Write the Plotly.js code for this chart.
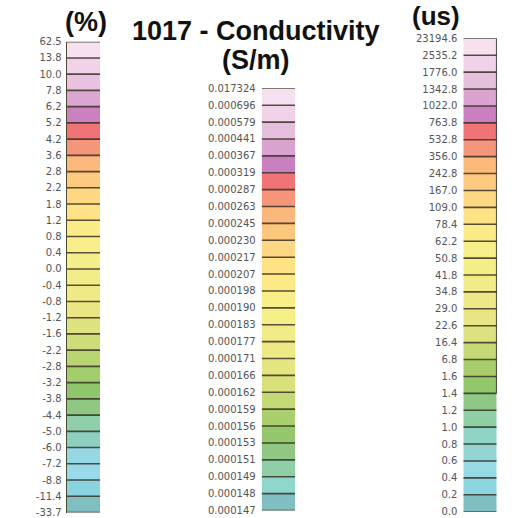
<!DOCTYPE html>
<html>
<head>
<meta charset="utf-8">
<script src="https://cdn.plot.ly/plotly-3.0.1.min.js"></script>
<style>
  html, body { margin: 0; padding: 0; background: #fff; }
  #chart { width: 524px; height: 518px; }
</style>
</head>
<body>
<div id="chart"></div>
<script>
// Class break values for each legend column, listed top to bottom.
const percentBreaks = [62.5, 13.8, 10.0, 7.8, 6.2, 5.2, 4.2, 3.6, 2.8, 2.2, 1.8, 1.2, 0.8, 0.4, 0.0,
  -0.4, -0.8, -1.2, -1.6, -2.2, -2.8, -3.2, -3.8, -4.4, -5.0, -6.0, -7.2, -8.8, -11.4, -33.7];

const conductivityBreaks = [0.017324, 0.000696, 0.000579, 0.000441, 0.000367, 0.000319, 0.000287,
  0.000263, 0.000245, 0.000230, 0.000217, 0.000207, 0.000198, 0.000190, 0.000183, 0.000177,
  0.000171, 0.000166, 0.000162, 0.000159, 0.000156, 0.000153, 0.000151, 0.000149, 0.000148, 0.000147];

const usBreaks = [23194.6, 2535.2, 1776.0, 1342.8, 1022.0, 763.8, 532.8, 356.0, 242.8, 167.0, 109.0,
  78.4, 62.2, 50.8, 41.8, 34.8, 29.0, 22.6, 16.4, 6.8, 1.6, 1.4, 1.2, 1.0, 0.8, 0.6, 0.4, 0.2, 0.0];

// Fill colour of each class, top to bottom.
const percentColors = ['#f5e1ef', '#f0d3e9', '#e8c2df', '#dba6d1', '#cb80c0', '#f07377', '#f5967b',
  '#fbb97d', '#fdca7f', '#fed882', '#fde385', '#fbec88', '#f8ef8a', '#f5ef8b', '#f3ed89', '#efea86',
  '#e9e683', '#dee27f', '#cedd79', '#b9d673', '#a1cd6c', '#8fc66c', '#8fc884', '#8fcfab', '#8dd0bf',
  '#96d7e4', '#98dae9', '#8ad4e0', '#7fbfc1'];

const conductivityColors = ['#f5e1ef', '#f0d3e9', '#e6bfdc', '#d9a2cf', '#ca80c0', '#f07377', '#f5957a',
  '#fbb77c', '#fdc87e', '#fed782', '#fee284', '#fcea87', '#f9ef89', '#f6ef8a', '#f2ec88', '#eee985',
  '#e5e582', '#d9e17d', '#c3d976', '#a9cf6e', '#95c86d', '#90c883', '#8fcfa8', '#8fd6cb', '#7fbfc1'];

const usColors = ['#f5e1ef', '#f0d3e9', '#e7c0dd', '#daa4d0', '#ca80c0', '#f07377', '#f5967b', '#fbb97c',
  '#fdca7f', '#fed882', '#fde385', '#fcec88', '#f8ef8a', '#f5ef8a', '#f2ec88', '#eee986', '#e8e683',
  '#dbe27e', '#c3d976', '#a6ce6d', '#92c86a', '#8fc884', '#8fcfa6', '#8fd4c4', '#92d5d3', '#98d9e6',
  '#8bd5de', '#7fbfc1'];

const W = 524, H = 518;
const SEP = 'rgba(45,38,25,0.8)';
const tickFont = { family: 'DejaVu Sans, Arial, sans-serif', size: 10, color: '#555555' };

// Each column is a stack of unit-height classes; the class k (counted from the bottom)
// spans [k, k+1] on its own y axis, and break labels sit on the class boundaries.
function column(breaks, colors, digits, axisNum) {
  const n = breaks.length - 1;
  const xa = axisNum === 1 ? 'x' : 'x' + axisNum;
  const ya = axisNum === 1 ? 'y' : 'y' + axisNum;
  const bottomUp = breaks.slice().reverse();
  const colorsUp = colors.slice().reverse();
  const idx = [...Array(n).keys()];
  const bars = {
    type: 'bar', xaxis: xa, yaxis: ya,
    x: idx.map(() => 0), y: idx.map(() => 1), base: idx,
    width: 1,
    marker: { color: colorsUp, line: { width: 0 } },
    hovertext: idx.map(k => bottomUp[k].toFixed(digits) + ' – ' + bottomUp[k + 1].toFixed(digits)),
    hoverinfo: 'text'
  };
  const sx = [], sy = [];
  for (let k = 0; k <= n; k++) { sx.push(-0.5, 0.5, null); sy.push(k, k, null); }
  const seps = {
    type: 'scatter', mode: 'lines', xaxis: xa, yaxis: ya, x: sx, y: sy,
    line: { color: SEP, width: 1.6 }, hoverinfo: 'skip', cliponaxis: false
  };
  const yaxis = {
    anchor: xa, range: [0, n], fixedrange: true,
    tickmode: 'array', tickvals: [...Array(n + 1).keys()],
    ticktext: bottomUp.map(v => v.toFixed(digits)),
    ticks: '', showgrid: false, zeroline: false, automargin: false,
    ticklabeloverflow: 'allow',
    tickfont: tickFont
  };
  const xaxis = { anchor: ya, range: [-0.5, 0.5], visible: false, fixedrange: true };
  return { traces: [bars, seps], xaxis, yaxis, bottomUp, n };
}

const left = column(percentBreaks, percentColors, 1, 1);
const mid = column(conductivityBreaks, conductivityColors, 6, 2);
const right = column(usBreaks, usColors, 1, 3);

// Pixel extents of the three colour columns
const px = (a, b) => [a / W, b / W];
const py = (top, bottom) => [1 - bottom / H, 1 - top / H];

left.xaxis.domain = px(66.7, 100);   left.yaxis.domain = py(41.7, 512.5);
mid.xaxis.domain = px(261.7, 295);   mid.yaxis.domain = py(88.3, 510.5);
right.xaxis.domain = px(463.3, 496.7); right.yaxis.domain = py(38.3, 511.7);

left.yaxis.ticklabelstandoff = 2;
mid.yaxis.ticklabelstandoff = 5;
right.yaxis.ticklabelstandoff = 5;

// dark outline down the left side of the percent column
left.yaxis.showline = true; left.yaxis.linecolor = '#4d4a30'; left.yaxis.linewidth = 1;

// black edge along the right side of the upper part of the us column
const edgeFrom = right.bottomUp.indexOf(1.4);
const usEdge = {
  type: 'scatter', mode: 'lines', xaxis: 'x3', yaxis: 'y3',
  x: [0.5, 0.5], y: [edgeFrom, right.n],
  line: { color: '#111111', width: 1.5 }, hoverinfo: 'skip', cliponaxis: false
};

const titleFont = { family: 'Liberation Sans, Arial, sans-serif', size: 27, color: '#111111' };
const ann = (text, x, y, size) => ({
  text: '<b>' + text + '</b>', xref: 'paper', yref: 'paper', x: x / W, y: 1 - y / H,
  xanchor: 'center', yanchor: 'middle', showarrow: false,
  font: Object.assign({}, titleFont, size ? { size } : {})
});

const layout = {
  width: W, height: H,
  margin: { l: 0, r: 0, t: 0, b: 0, pad: 0 },
  paper_bgcolor: '#ffffff', plot_bgcolor: 'rgba(0,0,0,0)',
  showlegend: false, barmode: 'overlay',
  xaxis: left.xaxis, yaxis: left.yaxis,
  xaxis2: mid.xaxis, yaxis2: mid.yaxis,
  xaxis3: right.xaxis, yaxis3: right.yaxis,
  annotations: [
    ann('(%)', 86, 22),
    ann('1017 - Conductivity', 256, 31),
    ann('(S/m)', 256, 60),
    ann('(us)', 436, 16, 26)
  ]
};

Plotly.newPlot('chart',
  [...left.traces, ...mid.traces, ...right.traces, usEdge],
  layout, { displayModeBar: false, staticPlot: true });
</script>
</body>
</html>
